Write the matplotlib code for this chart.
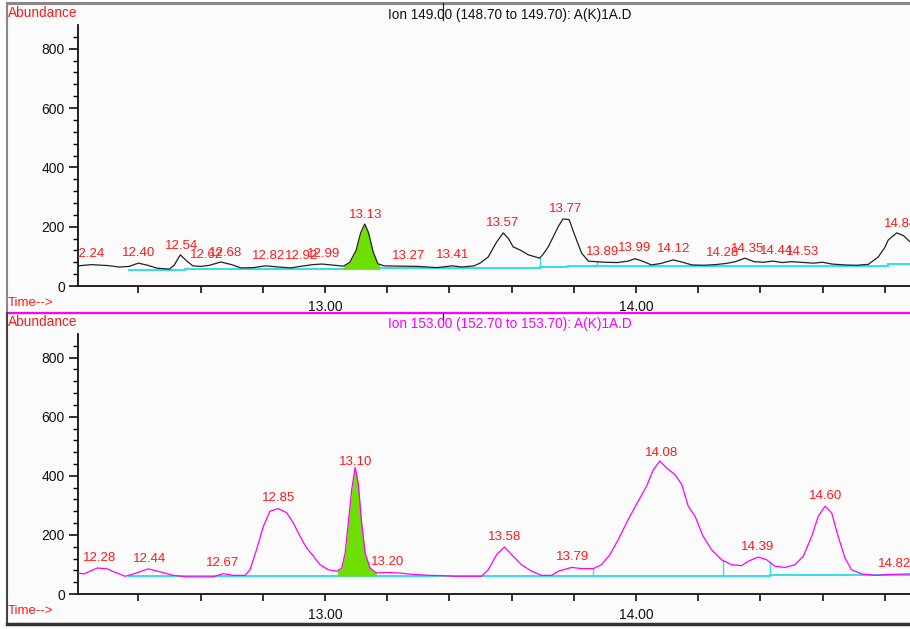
import numpy as np
import matplotlib
matplotlib.use("Agg")
import matplotlib.pyplot as plt
from matplotlib.patches import Rectangle
from matplotlib.lines import Line2D

plt.rcParams['font.family'] = ['Liberation Sans', 'DejaVu Sans']

# ---- data: ion 149 trace (time in min, abundance) ----
top_t = [12.206, 12.25, 12.30, 12.34, 12.37, 12.40, 12.43, 12.46, 12.50, 12.515,
         12.535, 12.555, 12.575, 12.60, 12.63, 12.665, 12.70, 12.73, 12.77, 12.81,
         12.85, 12.89, 12.92, 12.96, 12.99, 13.03, 13.06, 13.08, 13.10, 13.115,
         13.128, 13.14, 13.155, 13.17, 13.19, 13.24, 13.30, 13.36, 13.41, 13.44,
         13.48, 13.50, 13.525, 13.55, 13.573, 13.59, 13.605, 13.63, 13.654, 13.69,
         13.70, 13.718, 13.75, 13.765, 13.785, 13.80, 13.825, 13.847, 13.87, 13.90,
         13.94, 13.975, 13.997, 14.02, 14.05, 14.08, 14.12, 14.15, 14.18, 14.22,
         14.254, 14.29, 14.32, 14.35, 14.38, 14.41, 14.44, 14.47, 14.50, 14.53,
         14.57, 14.60, 14.63, 14.67, 14.71, 14.747, 14.779, 14.80, 14.811, 14.838,
         14.86, 14.881]
top_v = [68, 72, 69, 64, 66, 77, 70, 60, 57, 70,
         105, 85, 68, 66, 70, 81, 72, 61, 62, 68,
         64, 61, 66, 72, 74, 70, 67, 80, 120, 180,
         209, 180, 115, 75, 68, 67, 66, 62, 68, 64,
         68, 78, 98, 145, 179, 160, 132, 120, 105, 94,
         105, 132, 200, 226, 224, 180, 111, 84, 82, 80,
         79, 84, 92, 84, 71, 76, 88, 80, 71, 70,
         72, 76, 82, 94, 82, 80, 84, 79, 82, 80,
         77, 80, 74, 71, 70, 73, 98, 130, 155, 179,
         170, 149]

# ---- data: ion 153 trace ----
bot_t = [12.206, 12.225, 12.268, 12.300, 12.331, 12.358, 12.379, 12.432, 12.470, 12.513,
         12.555, 12.60, 12.641, 12.673, 12.705, 12.743, 12.759, 12.780, 12.802, 12.823,
         12.850, 12.877, 12.898, 12.920, 12.941, 12.963, 12.984, 13.011, 13.038, 13.054,
         13.065, 13.075, 13.086, 13.097, 13.107, 13.118, 13.129, 13.145, 13.166, 13.198,
         13.241, 13.284, 13.338, 13.381, 13.418, 13.504, 13.525, 13.552, 13.577, 13.605,
         13.632, 13.665, 13.697, 13.729, 13.750, 13.793, 13.825, 13.863, 13.889, 13.916,
         13.943, 13.975, 14.007, 14.034, 14.056, 14.077, 14.098, 14.125, 14.147, 14.168,
         14.190, 14.216, 14.243, 14.275, 14.308, 14.340, 14.361, 14.393, 14.420, 14.447,
         14.479, 14.511, 14.538, 14.565, 14.586, 14.608, 14.629, 14.650, 14.672, 14.693,
         14.726, 14.769, 14.811, 14.881]
bot_v = [71, 68, 88, 85, 71, 60, 66, 85, 75, 63,
         58, 58, 58, 69, 63, 63, 82, 150, 229, 280,
         289, 275, 241, 195, 156, 128, 99, 82, 77, 88,
         139, 241, 354, 429, 376, 241, 139, 88, 71, 73,
         71, 66, 63, 62, 60, 60, 82, 133, 159, 128,
         99, 77, 63, 63, 77, 90, 86, 86, 99, 133,
         184, 252, 314, 365, 421, 450, 427, 404, 371, 297,
         263, 195, 150, 116, 99, 96, 111, 125, 116, 94,
         90, 99, 128, 195, 263, 297, 275, 195, 122, 82,
         68, 63, 66, 68]

# peak labels (retention time shown, position)
top_lbl = ["12.24", "12.40", "12.54", "12.62", "12.68", "12.82", "12.92", "12.99", "13.13",
           "13.27", "13.41", "13.57", "13.77", "13.89", "13.99", "14.12", "14.28", "14.35",
           "14.44", "14.53", "14.84"]
top_lbl_t = [12.24, 12.40, 12.54, 12.62, 12.68, 12.82, 12.925, 12.995, 13.13,
             13.268, 13.41, 13.572, 13.775, 13.894, 13.997, 14.12, 14.277, 14.36,
             14.453, 14.537, 14.85]
bot_lbl = ["12.28", "12.44", "12.67", "12.85", "13.10", "13.20", "13.58", "13.79", "14.08",
           "14.39", "14.60", "14.82"]
bot_lbl_t = [12.275, 12.436, 12.672, 12.85, 13.10, 13.202, 13.578, 13.795, 14.083,
             14.392, 14.608, 14.83]

# integration baselines: (start, end, start value, end value)
top_base = [(12.37, 12.55, 53, 53), (12.55, 13.06, 57, 57), (13.06, 13.175, 58, 58),
            (13.175, 13.69, 60, 60), (13.69, 13.78, 64, 64), (13.78, 14.81, 68, 68),
            (14.81, 14.881, 73, 73)]
bot_base = [(12.37, 14.43, 60, 60), (14.43, 14.881, 63, 63)]
top_drops = [13.69, 13.875]
bot_drops = [13.863, 14.28, 14.43]
top_fill = (13.06, 13.175)
bot_fill = (13.04, 13.165)

W, H = 910, 629
fig = plt.figure(figsize=(W / 100, H / 100), dpi=100)
fig.patch.set_facecolor("white")

# panel frames
fig.add_artist(Rectangle((7 / W, 1 - 311 / H), 1, 308 / H, transform=fig.transFigure,
                         facecolor="#fbfbfb", edgecolor="none", zorder=0))
fig.add_artist(Rectangle((7 / W, 1 - 624 / H), 1, 312 / H, transform=fig.transFigure,
                         facecolor="#fbfbfb", edgecolor="none", zorder=0))
fig.add_artist(Line2D([7 / W, 1], [1 - 3 / H] * 2, color="#888888", lw=2.2))
fig.add_artist(Line2D([7 / W] * 2, [1 - 3 / H, 1 - 311 / H], color="#888888", lw=1.5))
fig.add_artist(Line2D([7 / W, 1], [1 - 312.5 / H] * 2, color="#ff00ff", lw=1.6))
fig.add_artist(Line2D([7 / W] * 2, [1 - 313 / H, 1 - 624 / H], color="#444444", lw=1.5))
fig.add_artist(Line2D([7 / W, 1], [1 - 624 / H] * 2, color="#333333", lw=2.5))
fig.add_artist(Line2D([443 / W] * 2, [1 - 3 / H, 1 - 20 / H], color="#222222", lw=0.9))
fig.add_artist(Line2D([443 / W] * 2, [1 - 313 / H, 1 - 320 / H], color="#222222", lw=0.9))


def panel(bottom_px, top_px, t, v, color, title, tcolor, lbl, lbl_t, base, drops, fill, title_y):
    ax = fig.add_axes([78 / W, 1 - bottom_px / H, (W - 78) / W, (bottom_px - top_px) / H])
    ax.set_facecolor("none")
    ax.set_xlim(12.206, 14.881)
    ax.set_ylim(0, 880)
    for s in ["top", "right"]:
        ax.spines[s].set_visible(False)
    for s in ["left", "bottom"]:
        ax.spines[s].set_color("#111111")
        ax.spines[s].set_linewidth(1.3)

    xt = np.arange(12.4, 14.85, 0.2)
    ax.set_xticks(xt)
    ax.set_xticklabels([f"{x:.2f}" if abs(x - round(x)) < 1e-6 else "" for x in xt])
    ax.set_yticks([0, 200, 400, 600, 800])
    ax.set_yticks(np.arange(40, 880, 40), minor=True)
    ax.tick_params(axis="x", direction="out", length=5, width=1.2, pad=5,
                   labelsize=10, colors="#111111")
    ax.tick_params(axis="y", which="major", direction="out", length=6.5, width=1.2, pad=3,
                   labelsize=10, colors="#111111")
    ax.tick_params(axis="y", which="minor", direction="out", length=3.6, width=1.0)

    # baseline and fill
    for a, b, va, vb in base:
        ax.plot([a, b], [va, vb], color="#30e0e8", lw=1.4, zorder=2)
    base_val = np.interp(fill[0], [s[0] for s in base], [s[2] for s in base])
    for d in drops:
        bv = [s[2] for s in base if s[0] <= d <= s[1]][0]
        ax.plot([d, d], [bv, np.interp(d, t, v)], color="#30e0e8", lw=1.0, zorder=2)
    tf = np.linspace(fill[0], fill[1], 200)
    vf = np.interp(tf, t, v)
    ax.fill_between(tf, base_val, vf, color="#6ee000", zorder=3, lw=0)

    ax.plot(t, v, color=color, lw=0.9, zorder=4)

    for s, x in zip(lbl, lbl_t):
        y = np.interp(x, t, v)
        ax.annotate(s, (x, y), xytext=(0, 7.5), textcoords="offset points",
                    ha="center", va="center", color="#ff1a1a", fontsize=9.5,
                    annotation_clip=False, clip_on=True, zorder=5)

    fig.text(510 / W, 1 - title_y / H, title, color=tcolor, fontsize=9.8,
             ha="center", va="center")
    fig.text(8 / W, 1 - (top_px - 12) / H, "Abundance", color="#ff1a1a", fontsize=9.8,
             ha="left", va="center")
    fig.text(8 / W, 1 - (bottom_px + 17) / H, "Time-->", color="#ff1a1a", fontsize=9.5,
             ha="left", va="center")
    return ax


panel(286, 25, top_t, top_v, "#222222", "Ion 149.00 (148.70 to 149.70): A(K)1A.D", "#111111",
      top_lbl, top_lbl_t, top_base, top_drops, top_fill, 15)
panel(594, 334, bot_t, bot_v, "#ff00ff", "Ion 153.00 (152.70 to 153.70): A(K)1A.D", "#ff00ff",
      bot_lbl, bot_lbl_t, bot_base, bot_drops, bot_fill, 324)

fig.savefig("out.png", dpi=100, facecolor=fig.get_facecolor())
